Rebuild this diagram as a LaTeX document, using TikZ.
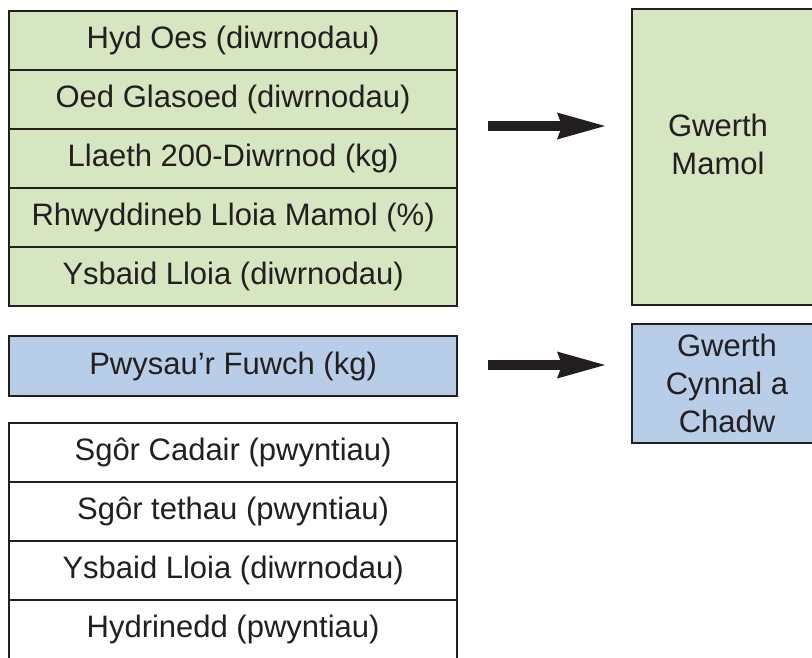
\documentclass[tikz,border=0pt]{standalone}
\usepackage{fontspec}
\setmainfont{Liberation Sans}
\usetikzlibrary{arrows.meta}
\definecolor{gr}{HTML}{D6E6C0}
\definecolor{bl}{HTML}{B8CDE8}
\definecolor{ink}{HTML}{231F20}
\begin{document}
\begin{tikzpicture}[x=1pt,y=-1pt,
  font=\fontsize{31}{38}\selectfont,
  rowbox/.style={draw=ink, line width=2.2pt, minimum width=448pt, minimum height=59pt,
    inner sep=0pt, anchor=north west, text=ink},
  greenrow/.style={rowbox, fill=gr},
  bluerow/.style={rowbox, fill=bl},
  whiterow/.style={rowbox, fill=white},
  bigbox/.style={draw=ink, line width=2.2pt, minimum width=250pt, inner sep=0pt, anchor=north west},
  lbl/.style={text=ink, align=center, inner sep=0pt},
  fatarrow/.style={draw=ink, line width=10.5pt, -{Stealth[length=48pt, width=27pt, inset=5pt, line width=0pt]}}
]
\useasboundingbox (0,0) rectangle (812,657);
\clip (0,0) rectangle (812,657);
\fill[white] (0,0) rectangle (812,657);
% top green stack
\node[greenrow] (g1) at (8,10)  {Hyd Oes (diwrnodau)};
\node[greenrow] (g2) at (8,69)  {Oed Glasoed (diwrnodau)};
\node[greenrow] (g3) at (8,128) {Llaeth 200-Diwrnod (kg)};
\node[greenrow] (g4) at (8,187) {Rhwyddineb Lloia Mamol (\%)};
\node[greenrow] (g5) at (8,246) {Ysbaid Lloia (diwrnodau)};
% blue row
\node[bluerow, minimum height=60pt] (b1) at (8,335) {Pwysau’r Fuwch (kg)};
% white stack
\node[whiterow] (w1) at (8,422) {Sgôr Cadair (pwyntiau)};
\node[whiterow] (w2) at (8,481) {Sgôr tethau (pwyntiau)};
\node[whiterow] (w3) at (8,540) {Ysbaid Lloia (diwrnodau)};
\node[whiterow] (w4) at (8,599) {Hydrinedd (pwyntiau)};
% right boxes
\node[bigbox, fill=gr, minimum height=296pt] (mamol) at (631,8) {};
\node[lbl] (mamoltxt) at (718,144) {Gwerth\\Mamol};
\node[bigbox, fill=bl, minimum height=119pt] (cynnal) at (631,323) {};
\node[lbl] (cynnaltxt) at (727,383) {Gwerth\\Cynnal a\\Chadw};
% arrows
\coordinate (a1s) at (488,126);
\coordinate (a1e) at (605,126);
\coordinate (a2s) at (488,365);
\coordinate (a2e) at (605,365);
\draw[fatarrow] (a1s) -- (a1e);
\draw[fatarrow] (a2s) -- (a2e);
\end{tikzpicture}
\end{document}
